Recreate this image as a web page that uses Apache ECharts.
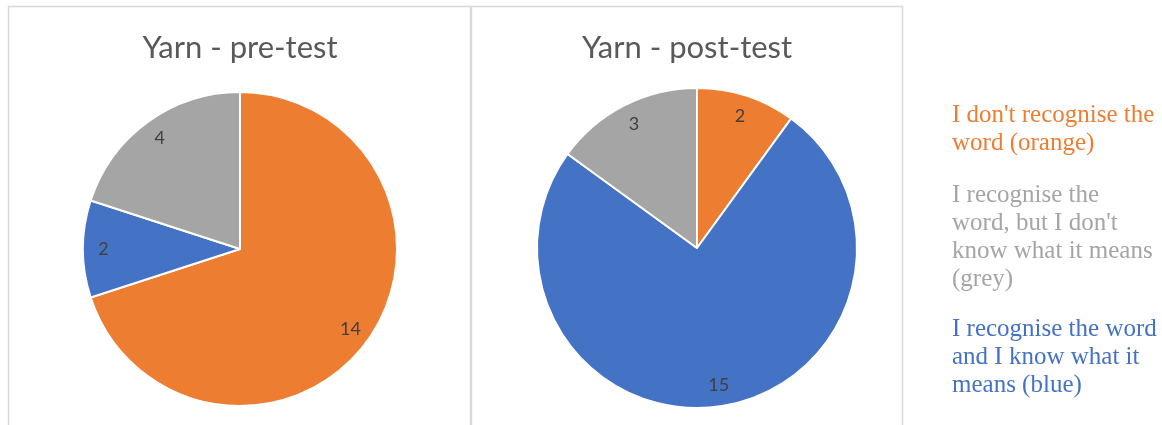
<!DOCTYPE html>
<html>
<head>
<meta charset="utf-8">
<script src="https://cdn.jsdelivr.net/npm/echarts@6/dist/echarts.min.js"></script>
<style>
  html, body { margin: 0; padding: 0; background: #fff; }
  #chart { width: 1162px; height: 425px; }
</style>
</head>
<body>
<div id="chart"></div>
<script>
// answer categories (same order in both charts)
var categories = ['orange', 'blue', 'grey'];
var colors = ['#ED7D31', '#4472C4', '#A5A5A5'];

// counts
var preValues = [14, 2, 4];
var postValues = [2, 15, 3];

var titles = ['Yarn - pre-test', 'Yarn - post-test'];

// legend notes on the right
var noteLines = [
  ["I don't recognise the", 'word (orange)'],
  ['I recognise the', "word, but I don't", 'know what it means', '(grey)'],
  ['I recognise the word', 'and I know what it', 'means (blue)']
];
var noteColors = ['#ED7D31', '#A5A5A5', '#4472C4'];
var noteTops = [101, 181, 315];

function toData(values) {
  return values.map(function (v, i) {
    return { name: categories[i], value: v, itemStyle: { color: colors[i] } };
  });
}

function pieSeries(values, center, r) {
  return [
    {
      type: 'pie',
      center: center,
      radius: [0, r],
      startAngle: 90,
      clockwise: true,
      silent: true,
      itemStyle: { borderColor: '#fff', borderWidth: 2 },
      label: { show: false },
      labelLine: { show: false },
      data: toData(values)
    },
    {
      // transparent ring, only to put the value labels near the rim
      type: 'pie',
      center: center,
      radius: [r * 0.7, r],
      startAngle: 90,
      clockwise: true,
      silent: true,
      itemStyle: { color: 'transparent', borderWidth: 0 },
      label: {
        show: true,
        position: 'inside',
        formatter: '{c}',
        color: '#404040',
        fontFamily: 'Lato',
        fontSize: 18
      },
      labelLine: { show: false },
      data: values.map(function (v, i) { return { name: categories[i], value: v }; })
    }
  ];
}

var graphics = [
  { type: 'rect', shape: { x: 8.5, y: 6.5, width: 462, height: 430 }, style: { fill: 'none', stroke: '#D9D9D9', lineWidth: 1.5 }, silent: true },
  { type: 'rect', shape: { x: 471.5, y: 6.5, width: 431, height: 430 }, style: { fill: 'none', stroke: '#D9D9D9', lineWidth: 1.5 }, silent: true }
];
noteLines.forEach(function (lines, i) {
  graphics.push({
    type: 'text',
    x: 952,
    y: noteTops[i],
    silent: true,
    style: {
      text: lines.join('\n'),
      fill: noteColors[i],
      font: '25px "Liberation Serif"',
      lineHeight: 28,
      verticalAlign: 'top'
    }
  });
});

var chart = echarts.init(document.getElementById('chart'));
chart.setOption({
  animation: false,
  title: [
    { text: titles[0], left: 240, top: 32, textAlign: 'center', padding: 0,
      textStyle: { color: '#595959', fontFamily: 'Lato', fontWeight: 'normal', fontSize: 31 } },
    { text: titles[1], left: 687, top: 32, textAlign: 'center', padding: 0,
      textStyle: { color: '#595959', fontFamily: 'Lato', fontWeight: 'normal', fontSize: 31 } }
  ],
  graphic: graphics,
  series: pieSeries(preValues, [240, 249], 157).concat(pieSeries(postValues, [697, 248], 160))
});
</script>
</body>
</html>
